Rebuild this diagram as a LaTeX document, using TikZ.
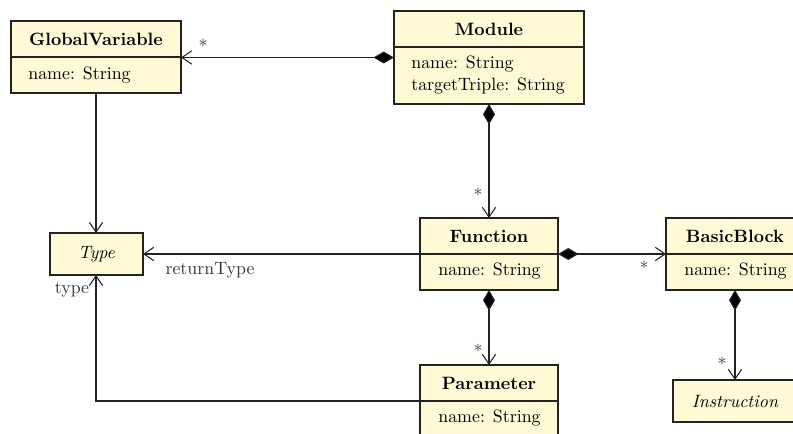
\documentclass[tikz,border=0pt]{standalone}
\usetikzlibrary{arrows.meta}
\definecolor{classfill}{RGB}{255,249,214}
\definecolor{lineclr}{RGB}{35,35,35}
\begin{document}
\begin{tikzpicture}[x=0.56pt,y=-0.56pt,
  cls/.style={draw=lineclr,line width=0.6pt,fill=classfill,inner sep=0pt,outer sep=0pt},
  conn/.style={draw=lineclr,line width=0.6pt},
  comp/.style={conn,{Diamond[length=11.5pt,width=6.7pt,fill=black]}-{Straight Barb[length=5.5pt,width=7.5pt]}},
  assoc/.style={conn,-{Straight Barb[length=5.5pt,width=7.5pt]}},
  hdr/.style={font=\bfseries,inner sep=0pt},
  attr/.style={inner sep=0pt,anchor=west},
  lbl/.style={inner sep=0pt,text=black!80}]
\useasboundingbox (0,0) rectangle (793,434);
\clip (0,0) rectangle (793,434);
% classes
\node[cls,minimum width=95.2pt,minimum height=40.32pt] (gv) at (96,57) {};
\node[cls,minimum width=106.4pt,minimum height=52.08pt] (mod) at (489,57.5) {};
\node[cls,minimum width=52.08pt,minimum height=23.52pt] (type) at (96.5,254) {\itshape Type};
\node[cls,minimum width=77.28pt,minimum height=40.32pt] (fun) at (489,254) {};
\node[cls,minimum width=77.28pt,minimum height=40.32pt] (bb) at (735,254) {};
\node[cls,minimum width=77.28pt,minimum height=40.32pt] (par) at (489,401) {};
\node[cls,minimum width=69.44pt,minimum height=23.52pt] (ins) at (735,401) {\itshape Instruction};
% dividers
\draw[draw=lineclr,line width=0.6pt] (gv.west) -- (gv.east);
\draw[draw=lineclr,line width=0.6pt] (mod.west |- 0,47) -- (mod.east |- 0,47);
\draw[draw=lineclr,line width=0.6pt] (fun.west) -- (fun.east);
\draw[draw=lineclr,line width=0.6pt] (bb.west) -- (bb.east);
\draw[draw=lineclr,line width=0.6pt] (par.west) -- (par.east);
% headers
\node[hdr] (gvh) at (96,39) {GlobalVariable};
\node[hdr] (modh) at (489,29) {Module};
\node[hdr] (funh) at (489,236) {Function};
\node[hdr] (bbh) at (735,236) {BasicBlock};
\node[hdr] (parh) at (489,383) {Parameter};
% attributes
\node[attr] (gva) at (28,75) {name: String};
\node[attr] (moda1) at (411,64) {name: String};
\node[attr] (moda2) at (411,86) {targetTriple: String};
\node[attr] (funa) at (438,271) {name: String};
\node[attr] (bba) at (684,271) {name: String};
\node[attr] (para) at (438,418) {name: String};
% connectors
\draw[comp] (mod.west) -- (mod.west -| gv.east);
\draw[comp] (mod.south) -- (fun.north);
\draw[assoc] (gv.south) -- (type.north -| gv.south);
\draw[assoc] (fun.west) -- (type.east);
\draw[comp] (fun.east) -- (bb.west);
\draw[comp] (fun.south) -- (par.north);
\draw[comp] (bb.south) -- (ins.north);
\coordinate (corner) at (par.west -| gv.south);
\draw[assoc] (par.west) -- (corner) -- (type.south -| gv.south);
% labels
\node[lbl] (m1) at (203,46) {*};
\node[lbl] (m2) at (478,195) {*};
\node[lbl] (rt) at (210,270) {returnType};
\node[lbl] (ty) at (72,290) {type};
\node[lbl] (m3) at (644,268) {*};
\node[lbl] (m4) at (478,351) {*};
\node[lbl] (m5) at (722,364) {*};
\end{tikzpicture}
\end{document}
